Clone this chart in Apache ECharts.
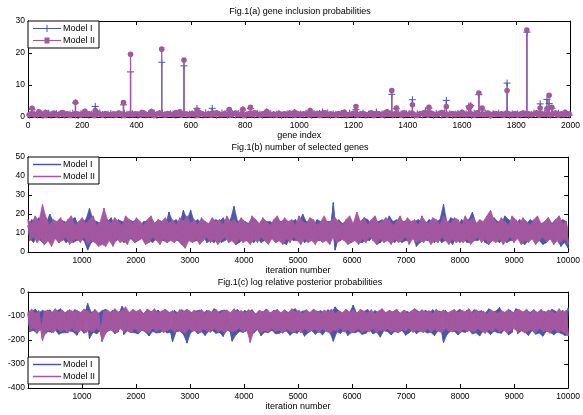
<!DOCTYPE html>
<html>
<head>
<meta charset="utf-8">
<script src="https://cdn.jsdelivr.net/npm/echarts@6/dist/echarts.min.js"></script>
<style>
  html, body { margin: 0; padding: 0; background: #fff; }
  #main { width: 583px; height: 415px; }
</style>
</head>
<body>
<div id="main"></div>
<script>
var FONT = 'Liberation Sans, Arial, Helvetica, sans-serif';
var BLUE = '#4656a8';
var PURPLE = '#a4579f';

// Fig.1(a): genes with clear spikes, and the low values of the remaining genes (every 10th gene)
var spikeGene = [15, 40, 65, 130, 175, 210, 248, 352, 378, 420, 455, 493, 560, 575, 623, 679, 742, 792, 820, 880, 983,
  1040, 1086, 1166, 1209, 1284, 1324, 1341, 1358, 1417, 1465, 1478, 1542, 1600, 1625, 1632, 1662, 1674, 1766, 1839,
  1888, 1913, 1921, 1931, 1980];
var spikeI = [2.4, 1.3, 1.2, 1.0, 4.4, 1.5, 3.3, 3.8, 14.1, 1.2, 1.5, 17.1, 1.4, 16.0, 2.7, 2.7, 2.0, 2.2, 2.6, 1.6, 1.4,
  1.8, 1.6, 1.3, 2.3, 1.6, 1.4, 7.1, 2.6, 5.4, 1.9, 2.8, 5.2, 1.3, 3.4, 3.6, 7.0, 2.2, 10.6, 26.5,
  4.1, 5.5, 4.2, 2.7, 1.2];
var spikeII = [2.7, 1.6, 1.4, 1.3, 4.6, 1.8, 2.0, 4.5, 19.6, 1.4, 1.7, 21.2, 1.6, 17.8, 2.2, 1.2, 2.3, 2.4, 3.0, 1.7, 1.5,
  2.0, 1.2, 1.5, 3.3, 1.1, 1.6, 8.3, 2.8, 3.8, 1.5, 3.0, 3.3, 1.5, 3.0, 3.4, 7.5, 2.8, 8.3, 27.2,
  2.8, 2.6, 6.8, 3.0, 1.5];
var baseI = [0.6,0.9,1.0,0.7,1.1,0.5,0.8,1.2,0.6,0.9,1.0,0.7,1.1,0.6,0.8,0.9,1.2,0.7,0.5,1.0,
  0.8,1.1,0.6,0.9,0.7,1.0,1.3,0.8,0.6,0.9,1.1,0.7,0.8,1.0,0.6,1.2,0.9,0.7,1.0,0.8,
  0.6,1.1,0.9,0.7,1.0,0.8,1.2,0.6,0.9,1.1,0.8,0.7,1.0,0.9,0.6,1.2,0.8,1.1,0.7,0.9,
  1.0,0.6,0.8,1.1,0.7,1.3,0.9,0.8,1.0,0.6,0.7,1.2,0.9,0.6,1.0,0.8,0.7,1.1,0.9,1.2,
  0.6,0.8,1.0,0.7,1.1,0.9,0.6,1.2,0.8,1.0,0.7,0.9,1.1,0.6,0.8,1.0,0.9,0.7,1.1,0.8,
  0.9,0.7,1.2,0.8,0.6,1.0,0.9,1.1,0.7,0.8,1.3,0.6,1.0,0.9,0.7,1.1,0.8,0.6,1.2,0.9,
  0.7,1.0,0.8,1.2,0.6,0.9,1.1,0.7,1.0,0.8,0.9,0.6,1.2,1.0,0.7,0.8,1.1,0.9,0.6,1.0,
  1.1,0.8,0.6,1.0,0.9,0.7,1.2,0.8,1.0,0.6,1.1,0.9,0.7,1.3,0.8,1.0,0.6,0.9,1.1,0.7,
  0.8,1.0,0.9,0.6,1.2,0.7,1.0,0.8,1.1,0.9,0.6,1.0,0.8,1.2,0.7,0.9,1.1,0.6,1.0,0.8,
  1.0,0.7,1.1,0.9,0.6,0.8,1.2,1.0,0.7,0.9,1.1,0.8,0.6,1.0,0.9,1.2,0.7,0.8,1.0,0.6];
var baseII = [0.8,1.1,0.6,0.9,1.3,0.7,0.5,1.0,0.8,1.2,0.6,0.9,1.4,0.7,1.0,0.5,0.8,1.1,0.9,0.6,
  1.2,0.7,1.0,0.8,0.5,1.3,0.9,0.6,1.1,0.8,0.7,1.0,0.6,1.2,0.9,0.5,0.8,1.1,0.7,1.0,
  0.9,0.6,1.3,0.8,0.7,1.0,0.5,0.9,1.2,0.8,0.6,1.1,0.9,0.7,1.4,0.8,0.6,1.0,0.9,0.7,
  1.1,0.8,0.5,1.2,0.9,0.7,1.0,0.6,0.8,1.3,0.9,0.7,1.1,0.8,0.6,1.0,1.2,0.7,0.9,0.5,
  0.8,1.1,0.7,1.3,0.9,0.6,1.0,0.8,1.2,0.7,0.9,0.6,1.1,0.8,1.0,0.7,1.2,0.9,0.6,1.0,
  0.7,1.0,0.9,0.6,1.2,0.8,1.1,0.5,0.9,1.3,0.7,1.0,0.8,0.6,1.1,0.9,1.4,0.7,0.8,1.0,
  1.2,0.6,0.9,1.1,0.7,0.8,1.3,0.5,1.0,0.9,0.6,1.2,0.8,1.0,0.7,1.1,0.9,0.6,1.3,0.8,
  0.9,1.2,0.7,0.5,1.0,1.1,0.8,0.6,1.2,0.9,0.7,1.0,1.4,0.8,0.6,0.9,1.1,0.7,1.0,0.8,
  1.1,0.7,1.0,0.9,0.6,1.3,0.8,1.0,0.7,1.2,0.5,0.9,1.1,0.8,1.0,0.6,1.2,0.9,0.7,1.1,
  0.6,0.9,1.2,0.8,1.0,0.7,0.9,1.3,0.6,1.0,0.8,1.1,0.7,0.9,1.2,0.6,1.0,0.8,1.1,0.9];

// Fig.1(b): number of selected genes, thinned trace (300 samples over 10000 iterations)
var selI = [14,7,17,5,16,8,18,6,15,4,15,6,20,5,16,8,14,5,17,7,
  16,5,15,6,17,5,18,6,14,7,16,6,17,1,23,5,17,6,16,6,
  15,5,17,6,16,7,18,4,14,6,17,8,16,5,15,6,17,7,16,5,
  17,6,14,8,16,5,16,6,18,5,15,7,17,6,16,6,14,5,21,7,
  16,6,17,6,15,4,22,5,17,7,22,5,16,6,17,6,15,8,16,5,
  14,6,16,5,17,7,16,5,18,6,15,8,17,6,24,4,16,5,17,7,
  16,6,15,6,18,5,17,7,14,5,17,6,16,6,16,8,15,5,17,6,
  16,5,17,4,14,7,16,6,17,6,15,8,20,5,16,6,16,7,14,6,
  17,6,16,6,15,7,16,5,16,26,1,5,17,6,15,8,16,5,17,5,
  14,7,17,5,16,5,18,6,17,6,15,8,16,4,16,5,17,7,14,6,
  19,6,16,5,17,7,15,5,16,6,17,6,14,8,16,3,17,5,16,7,
  15,6,17,6,16,5,16,7,17,5,25,6,15,6,18,4,17,8,14,5,
  17,7,16,5,17,5,21,6,15,6,16,8,14,5,17,4,16,6,18,6,
  16,5,15,7,19,5,17,6,16,6,14,8,17,5,16,4,15,6,17,7,
  16,6,17,6,14,4,16,5,18,7,15,6,17,6,16,3,17,5,16,2];
var selII = [17,6,15,8,19,5,16,7,25,4,18,6,14,3,17,7,16,5,18,6,
  15,8,17,4,19,6,14,7,16,5,18,8,15,4,17,6,19,5,14,3,
  16,4,23,3,17,6,15,3,18,7,16,5,14,6,19,4,17,8,15,5,
  18,6,16,7,14,4,17,5,19,8,15,6,17,4,16,7,18,5,15,6,
  17,5,14,7,18,4,16,2,19,6,15,5,17,7,14,4,18,6,16,8,
  15,5,18,7,16,4,17,6,14,8,19,5,16,6,17,4,15,7,18,5,
  16,6,14,4,19,7,17,5,15,8,18,6,16,4,14,7,17,5,19,6,
  15,4,18,7,16,5,17,8,14,6,19,4,16,7,15,5,18,6,17,4,
  14,7,16,5,19,6,15,4,17,8,18,5,16,7,14,6,17,4,19,5,
  15,6,21,4,16,7,18,5,14,8,17,6,19,4,15,7,16,5,18,6,
  17,4,14,7,16,5,19,6,15,8,18,4,16,7,17,5,14,6,19,5,
  16,7,15,4,18,6,17,5,14,8,19,6,16,4,15,7,18,5,17,6,
  14,5,19,7,16,4,18,6,15,8,17,5,16,7,19,4,22,6,17,5,
  15,7,18,4,16,6,14,8,19,5,17,7,15,4,18,6,16,5,14,7,
  17,4,19,6,15,8,16,5,18,7,14,4,17,6,19,5,15,7,16,4];

// Fig.1(c): log relative posterior probabilities, same thinning
var postI = [-92,-165,-80,-160,-72,-172,-88,-150,-76,-178,-84,-165,-75,-168,-90,-158,-79,-176,-70,-170,
  -90,-170,-78,-163,-86,-166,-74,-180,-82,-155,-88,-172,-77,-48,-195,-85,-168,-76,-174,-89,
  -161,-78,-178,-72,-164,-88,-157,-75,-173,-91,-166,-80,-60,-177,-76,-162,-90,-169,-74,-170,
  -85,-175,-77,-158,-90,-167,-72,-183,-81,-164,-87,-171,-75,-169,-92,-160,-74,-171,-84,-168,
  -207,-76,-165,-89,-163,-74,-176,-82,-213,-78,-170,-88,-158,-79,-174,-75,-166,-87,-181,-77,
  -163,-90,-160,-70,-172,-84,-169,-78,-185,-75,-157,-88,-166,-205,-80,-179,-73,-165,-91,-168,
  -77,-162,-86,-177,-74,-171,-92,-156,-79,-182,-83,-167,-71,-170,-89,-159,-76,-175,-82,-172,
  -90,-166,-75,-163,-85,-180,-77,-168,-70,-172,-88,-155,-80,-184,-76,-170,-90,-161,-73,-176,
  -83,-164,-78,-179,-91,-160,-74,-168,-87,-205,-62,-166,-79,-173,-90,-157,-75,-181,-84,-169,
  -55,-170,-89,-164,-77,-177,-81,-172,-73,-158,-92,-175,-78,-167,-86,-188,-75,-161,-90,-166,
  -78,-178,-84,-165,-72,-169,-90,-159,-77,-180,-82,-170,-88,-156,-70,-174,-80,-163,-92,-162,
  -75,-171,-87,-168,-74,-182,-85,-160,-79,-167,-210,-76,-176,-91,-163,-78,-164,-83,-179,-72,
  -166,-92,-168,-76,-158,-88,-175,-74,-170,-82,-183,-78,-161,-90,-165,-70,-177,-85,-164,-79,
  -170,-65,-172,-90,-155,-81,-179,-77,-168,-87,-70,-174,-76,-162,-90,-167,-79,-181,-84,-160,
  -74,-176,-88,-171,-78,-184,-82,-163,-91,-168,-72,-178,-80,-167,-92,-172,-76,-180,-180,-66];
var postII = [-85,-160,-72,-150,-90,-168,-78,-155,-202,-80,-162,-75,-158,-88,-170,-70,-152,-84,-165,-76,
  -157,-89,-171,-74,-150,-82,-163,-77,-167,-86,-154,-71,-169,-79,-158,-91,-166,-73,-151,-87,
  -164,-207,-80,-172,-75,-156,-88,-161,-70,-168,-83,-153,-77,-165,-62,-159,-85,-170,-74,-152,
  -81,-166,-73,-158,-90,-162,-76,-171,-84,-150,-70,-164,-87,-155,-79,-169,-72,-160,-86,-153,
  -78,-167,-91,-157,-74,-163,-82,-172,-71,-151,-88,-165,-76,-159,-84,-170,-73,-154,-89,-161,
  -77,-168,-85,-152,-72,-164,-90,-158,-80,-171,-75,-155,-86,-166,-70,-160,-83,-150,-78,-169,
  -88,-156,-74,-210,-81,-162,-92,-153,-76,-170,-84,-159,-71,-167,-87,-151,-79,-165,-73,-158,
  -86,-172,-75,-154,-89,-163,-70,-168,-82,-157,-77,-170,-91,-152,-74,-166,-85,-160,-72,-155,
  -80,-169,-88,-153,-76,-164,-83,-171,-71,-158,-90,-162,-78,-150,-86,-167,-73,-156,-84,-170,
  -75,-161,-89,-154,-72,-168,-81,-159,-87,-165,-74,-151,-92,-170,-79,-157,-70,-163,-85,-152,
  -77,-166,-83,-160,-73,-171,-88,-155,-76,-162,-90,-150,-80,-168,-71,-158,-86,-164,-74,-169,
  -84,-153,-78,-167,-91,-156,-72,-163,-85,-170,-75,-152,-89,-161,-80,-166,-73,-158,-87,-171,
  -76,-154,-82,-165,-70,-159,-88,-168,-74,-151,-86,-162,-79,-172,-92,-157,-73,-164,-83,-150,
  -90,-167,-77,-155,-85,-170,-71,-160,-88,-153,-79,-166,-74,-158,-83,-171,-72,-162,-89,-156,
  -78,-169,-84,-151,-73,-165,-87,-159,-75,-172,-81,-154,-90,-167,-70,-161,-86,-170,-76,-183];

var titles = ['Fig.1(a) gene inclusion probabilities', 'Fig.1(b) number of selected genes',
  'Fig.1(c) log relative posterior probabilities'];

function genePoints(base, spikes) {
  var pts = [];
  base.forEach(function (v, i) { pts.push([5 + i * 10, v]); });
  spikeGene.forEach(function (g, i) { pts.push([g, spikes[i]]); });
  return pts;
}

// each sample with its neighbours: [iterPrev, iter, iterNext, valPrev, val, valNext]
function traceTriangles(vals) {
  var n = vals.length;
  var iter = function (k) { return 1 + k * 9999 / (n - 1); };
  return vals.map(function (v, i) {
    var p = Math.max(i - 1, 0), q = Math.min(i + 1, n - 1);
    return [iter(p), iter(i), iter(q), vals[p], v, vals[q]];
  });
}

// a dense trace fills the zigzag: each sample fills the triangle to its neighbours
function traceFill(params, api) {
  var col = api.visual('color');
  var pts = [
    api.coord([api.value(0), api.value(3)]),
    api.coord([api.value(1), api.value(4)]),
    api.coord([api.value(2), api.value(5)])
  ];
  return { type: 'polygon', shape: { points: pts }, style: { fill: col, stroke: col, lineWidth: 0.7 } };
}

// stem plot: line from 0 up to the value, marker on top
function stem(marker) {
  return function (params, api) {
    var top = api.coord([api.value(0), api.value(1)]);
    var bot = api.coord([api.value(0), 0]);
    var col = api.visual('color');
    var kids = [{ type: 'line', shape: { x1: top[0], y1: bot[1], x2: top[0], y2: top[1] },
      style: { stroke: col, lineWidth: 1.3 } }];
    if (marker == 'plus') {
      kids.push({ type: 'line', shape: { x1: top[0] - 3.5, y1: top[1], x2: top[0] + 3.5, y2: top[1] }, style: { stroke: col, lineWidth: 1 } });
      kids.push({ type: 'line', shape: { x1: top[0], y1: top[1] - 3.5, x2: top[0], y2: top[1] + 3.5 }, style: { stroke: col, lineWidth: 1 } });
    } else {
      kids.push({ type: 'circle', shape: { cx: top[0], cy: top[1], r: 2.8 }, style: { fill: col } });
    }
    return { type: 'group', children: kids };
  };
}

function plain(v) { return String(v); }

function xAxis(grid, pos, max, step, showLabels, showMin, name) {
  return {
    type: 'value', gridIndex: grid, position: pos, min: 0, max: max, interval: step,
    axisLine: { onZero: false, lineStyle: { color: '#000', width: 1 } },
    axisTick: { inside: true, length: 4, lineStyle: { color: '#000' } },
    axisLabel: { show: showLabels, showMinLabel: showMin, showMaxLabel: true, formatter: plain,
      color: '#000', fontSize: 8.5, margin: 4, fontFamily: FONT },
    splitLine: { show: false },
    name: name, nameLocation: 'middle', nameGap: 12,
    nameTextStyle: { color: '#000', fontSize: 9, fontFamily: FONT }
  };
}

function yAxis(grid, pos, min, max, step, showLabels) {
  return {
    type: 'value', gridIndex: grid, position: pos, min: min, max: max, interval: step,
    axisLine: { onZero: false, lineStyle: { color: '#000', width: 1 } },
    axisTick: { inside: true, length: 4, lineStyle: { color: '#000' } },
    axisLabel: { show: showLabels, formatter: plain, color: '#000', fontSize: 8.5, margin: 3, fontFamily: FONT },
    splitLine: { show: false }
  };
}

function legend(top, icons, iconH) {
  return {
    left: 28, top: top, orient: 'vertical',
    backgroundColor: '#fff', borderColor: '#000', borderWidth: 1, borderRadius: 0,
    padding: [3, 4, 3, 5], itemGap: 3, itemWidth: 28, itemHeight: iconH,
    textStyle: { color: '#000', fontSize: 9, fontFamily: FONT, padding: [0, 0, 0, -3] },
    selectedMode: false,
    data: [{ name: 'Model I', icon: icons[0] }, { name: 'Model II', icon: icons[1] }]
  };
}

function traceSeries(name, color, axis, vals) {
  return { name: name, type: 'custom', xAxisIndex: axis, yAxisIndex: axis, color: color,
    renderItem: traceFill, encode: { x: [0, 1, 2], y: [3, 4, 5] }, data: traceTriangles(vals) };
}

var chart = echarts.init(document.getElementById('main'));

var option = {
  animation: false,
  backgroundColor: '#fff',
  title: titles.map(function (t, i) {
    return { text: t, left: 300, top: [7, 143, 278][i], textAlign: 'center', padding: 0,
      textStyle: { color: '#000', fontSize: 9, fontWeight: 'normal', fontFamily: FONT } };
  }),
  grid: [
    { left: 28, right: 11, top: 21, height: 96 },
    { left: 28, right: 11, top: 157, height: 95 },
    { left: 28, right: 11, top: 292, height: 96 }
  ],
  xAxis: [
    xAxis(0, 'bottom', 2000, 200, true, true, 'gene index'),
    xAxis(0, 'top', 2000, 200, false, false, ''),
    xAxis(1, 'bottom', 10000, 1000, true, false, 'iteration number'),
    xAxis(1, 'top', 10000, 1000, false, false, ''),
    xAxis(2, 'bottom', 10000, 1000, true, false, 'iteration number'),
    xAxis(2, 'top', 10000, 1000, false, false, '')
  ],
  yAxis: [
    yAxis(0, 'left', 0, 30, 10, true),
    yAxis(0, 'right', 0, 30, 10, false),
    yAxis(1, 'left', 0, 50, 10, true),
    yAxis(1, 'right', 0, 50, 10, false),
    yAxis(2, 'left', -400, 0, 100, true),
    yAxis(2, 'right', -400, 0, 100, false)
  ],
  legend: [
    legend(21, ['path://M0,3H28V4H0Z M13.5,0H14.5V7H13.5Z', 'path://M0,3H28V4H0Z M11.5,0.5H16.5V6.5H11.5Z'], 7),
    legend(157, ['rect', 'rect'], 1.5),
    legend(357, ['rect', 'rect'], 1.5)
  ],
  series: [
    { name: 'Model I', type: 'custom', xAxisIndex: 0, yAxisIndex: 0, color: BLUE,
      renderItem: stem('plus'), encode: { x: 0, y: 1 }, data: genePoints(baseI, spikeI) },
    { name: 'Model II', type: 'custom', xAxisIndex: 0, yAxisIndex: 0, color: PURPLE,
      renderItem: stem('star'), encode: { x: 0, y: 1 }, data: genePoints(baseII, spikeII) },
    traceSeries('Model I', BLUE, 2, selI),
    traceSeries('Model II', PURPLE, 2, selII),
    traceSeries('Model I', BLUE, 4, postI),
    traceSeries('Model II', PURPLE, 4, postII)
  ]
};

chart.setOption(option);
</script>
</body>
</html>
